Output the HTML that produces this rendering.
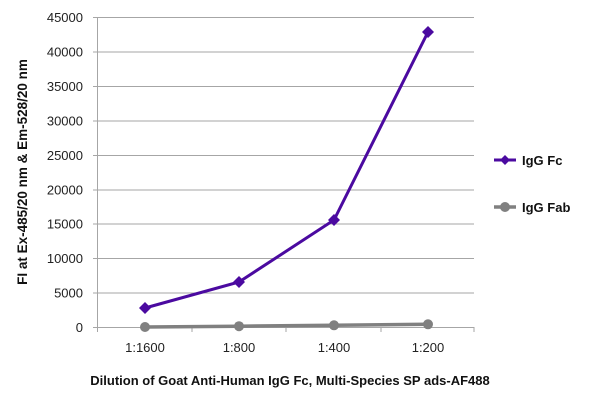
<!DOCTYPE html>
<html><head><style>body{margin:0;background:#fff}svg{display:block}text{font-family:"Liberation Sans",sans-serif}</style></head><body>
<svg width="600" height="400" viewBox="0 0 600 400">
<g stroke="#a6a6a6" stroke-width="1">
<line x1="97" y1="17.5" x2="474" y2="17.5"/>
<line x1="97" y1="52" x2="474" y2="52"/>
<line x1="97" y1="86.5" x2="474" y2="86.5"/>
<line x1="97" y1="121" x2="474" y2="121"/>
<line x1="97" y1="155.5" x2="474" y2="155.5"/>
<line x1="97" y1="190" x2="474" y2="190"/>
<line x1="97" y1="224" x2="474" y2="224"/>
<line x1="97" y1="258.5" x2="474" y2="258.5"/>
<line x1="97" y1="293" x2="474" y2="293"/>
<line x1="97" y1="327.5" x2="474" y2="327.5"/>
<line x1="97.5" y1="17" x2="97.5" y2="332"/>
<line x1="192" y1="327" x2="192" y2="332"/>
<line x1="286" y1="327" x2="286" y2="332"/>
<line x1="381" y1="327" x2="381" y2="332"/>
<line x1="474" y1="327" x2="474" y2="332"/>
<line x1="93" y1="17.5" x2="97" y2="17.5"/><line x1="93" y1="52" x2="97" y2="52"/><line x1="93" y1="86.5" x2="97" y2="86.5"/><line x1="93" y1="121" x2="97" y2="121"/><line x1="93" y1="155.5" x2="97" y2="155.5"/><line x1="93" y1="190" x2="97" y2="190"/><line x1="93" y1="224" x2="97" y2="224"/><line x1="93" y1="258.5" x2="97" y2="258.5"/><line x1="93" y1="293" x2="97" y2="293"/><line x1="93" y1="327.5" x2="97" y2="327.5"/>
</g>
<g font-size="13" fill="#222" text-anchor="end">
<text x="83" y="22">45000</text><text x="83" y="56.5">40000</text><text x="83" y="91">35000</text><text x="83" y="125.5">30000</text><text x="83" y="160">25000</text><text x="83" y="194.5">20000</text><text x="83" y="228.5">15000</text><text x="83" y="263">10000</text><text x="83" y="297.5">5000</text><text x="83" y="332">0</text>
</g>
<g font-size="13" fill="#222" text-anchor="middle">
<text x="145" y="352">1:1600</text><text x="239" y="352">1:800</text><text x="334" y="352">1:400</text><text x="428" y="352">1:200</text>
</g>
<text x="290" y="385" font-size="13" font-weight="bold" text-anchor="middle" fill="#111">Dilution of Goat Anti-Human IgG Fc, Multi-Species SP ads-AF488</text>
<text transform="translate(27,172) rotate(-90)" font-size="13.5" font-weight="bold" text-anchor="middle" fill="#111">FI at Ex-485/20 nm &amp; Em-528/20 nm</text>
<polyline points="145,327 239,326.2 334,325.3 428,324.3" fill="none" stroke="#808080" stroke-width="3.5"/>
<g fill="#808080"><circle cx="145" cy="327" r="5"/><circle cx="239" cy="326.2" r="5"/><circle cx="334" cy="325.3" r="5"/><circle cx="428" cy="324.3" r="5"/></g>
<polyline points="145,308 239,282 334,220 428,32" fill="none" stroke="#4b0aa0" stroke-width="3"/>
<g fill="#4b0aa0"><path d="M145 302l6 6-6 6-6-6z"/><path d="M239 276l6 6-6 6-6-6z"/><path d="M334 214l6 6-6 6-6-6z"/><path d="M428 26l6 6-6 6-6-6z"/></g>
<line x1="494" y1="160" x2="516" y2="160" stroke="#4b0aa0" stroke-width="3"/><path d="M505 155l5 5-5 5-5-5z" fill="#4b0aa0"/>
<text x="522" y="165" font-size="13" font-weight="bold" fill="#111">IgG Fc</text>
<line x1="494" y1="207" x2="516" y2="207" stroke="#808080" stroke-width="3.5"/><circle cx="505" cy="207" r="5" fill="#808080"/>
<text x="522" y="212" font-size="13" font-weight="bold" fill="#111">IgG Fab</text>
</svg>
</body></html>
